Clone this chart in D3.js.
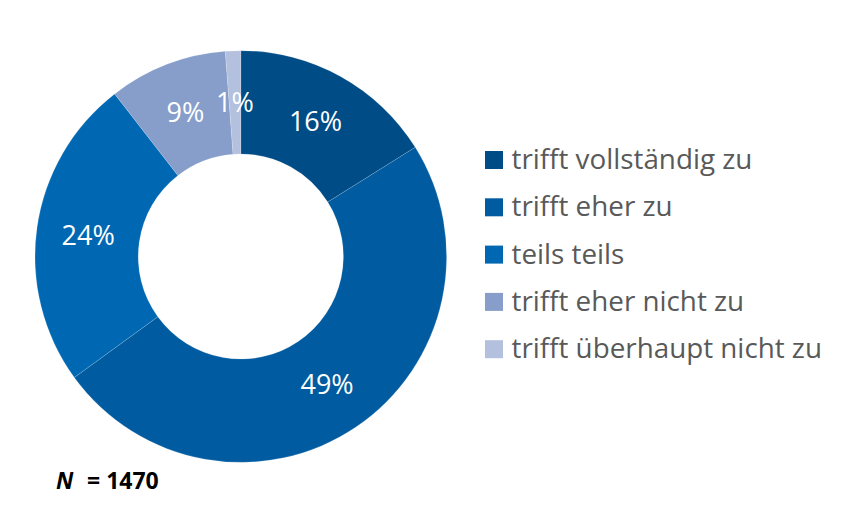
<!DOCTYPE html>
<html>
<head>
<meta charset="utf-8">
<script src="https://cdn.jsdelivr.net/npm/d3@7"></script>
<style>
  body { margin: 0; background: #fff; }
  svg { display: block; }
</style>
</head>
<body>
<div id="chart"></div>
<script>
const categories = [
    'trifft vollständig zu',
    'trifft eher zu',
    'teils teils',
    'trifft eher nicht zu',
    'trifft überhaupt nicht zu'
];
// shares in percent
const shares = [16.1, 48.9, 24.5, 9.3, 1.2];
const share_labels = ['16%', '49%', '24%', '9%', '1%'];
const colors = ['#004c86', '#005ba0', '#0068b2', '#869ec9', '#b4c1de'];
const sample_size = 1470;

const chart_width = 841;
const chart_height = 515;
const cx = 240.8;
const cy = 256.5;
const outer_radius = 205.8;
const inner_radius = 102.6;

const svg = d3.select('#chart')
    .append('svg')
    .attr('width', chart_width)
    .attr('height', chart_height);

const pie = d3.pie()
    .sort(null)
    .value(d => d);

const arc = d3.arc()
    .innerRadius(inner_radius)
    .outerRadius(outer_radius);

const donut = svg.append('g')
    .attr('transform', `translate(${cx},${cy})`);

const slices = pie(shares);

// slices
donut.selectAll('path')
    .data(slices)
    .enter()
    .append('path')
    .attr('d', arc)
    .attr('fill', (d, i) => colors[i])
    .attr('stroke', '#ffffff')
    .attr('stroke-opacity', 0.25)
    .attr('stroke-width', 0.6);

// percent labels at the centroid of each slice
donut.selectAll('text')
    .data(slices)
    .enter()
    .append('text')
    .text((d, i) => share_labels[i])
    .attr('x', d => arc.centroid(d)[0])
    .attr('y', d => arc.centroid(d)[1])
    .attr('dy', '0.36em')
    .attr('text-anchor', 'middle')
    .attr('fill', '#ffffff')
    .style('font-family', '"Open Sans", sans-serif')
    .style('font-size', '27px');

// legend
const legend_y = d3.scaleBand()
    .domain(categories)
    .range([145.5, 382])
    .paddingInner(0);

const legend = svg.append('g');

const rows = legend.selectAll('g')
    .data(categories)
    .enter()
    .append('g')
    .attr('transform', d => `translate(485,${legend_y(d)})`);

rows.append('rect')
    .attr('x', 0)
    .attr('y', 5.5)
    .attr('width', 18)
    .attr('height', 18)
    .attr('fill', (d, i) => colors[i]);

rows.append('text')
    .text(d => d)
    .attr('x', 26.5)
    .attr('y', 23.5)
    .attr('fill', '#595959')
    .style('font-family', '"Open Sans", sans-serif')
    .style('font-size', '27.8px');

// sample size note
const note = svg.append('text')
    .attr('x', 56)
    .attr('y', 488.5)
    .attr('fill', '#000000')
    .style('font-family', '"Open Sans", sans-serif')
    .style('font-weight', 'bold')
    .style('font-size', '23px');

note.append('tspan')
    .style('font-style', 'italic')
    .text('N');

note.append('tspan')
    .attr('x', 87)
    .text('= ' + sample_size);
</script>
</body>
</html>
